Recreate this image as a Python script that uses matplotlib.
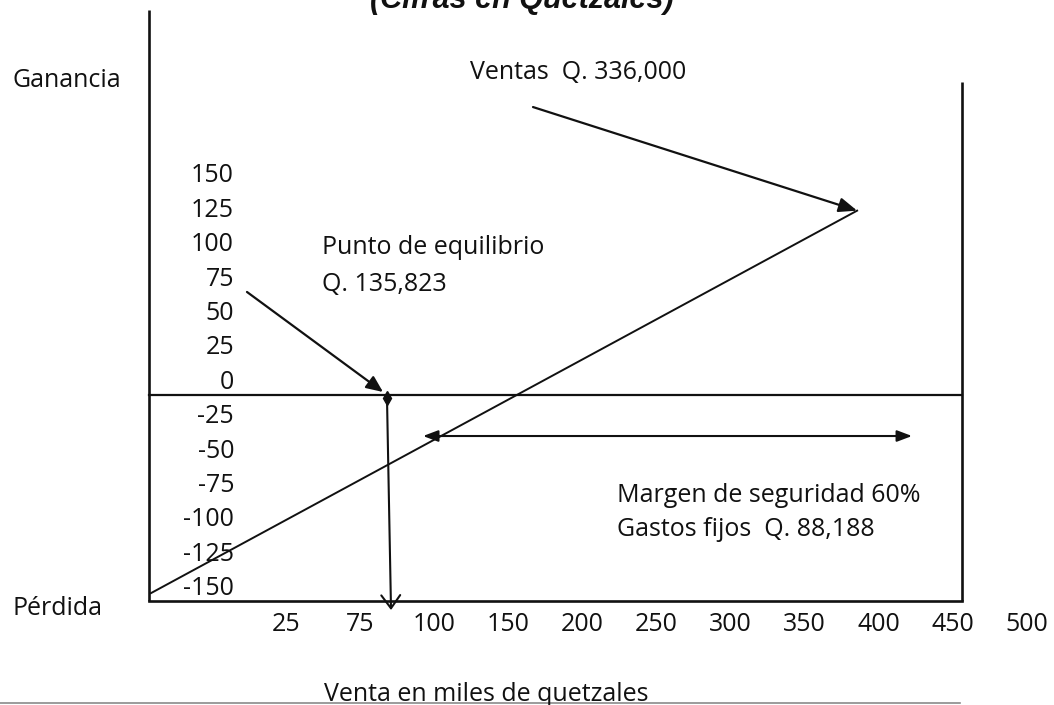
"""
Punto de equilibrio: ganancia / pérdida según venta (cifras en quetzales).
Redibujo del diagrama escaneado con matplotlib.
"""

import numpy as np
import matplotlib.pyplot as plt

y_values = [150, 125, 100, 75, 50, 25, 0, -25, -50, -75, -100, -125, -150]
x_labels = ["25", "75", "100", "150", "200", "250", "300", "350", "400", "450", "500"]
x_slots = np.arange(len(x_labels))          # las etiquetas del eje x van a intervalos iguales

# recta de resultado: x en posiciones del eje, y en miles de Q
profit_x = [-1.82, 7.71]
profit_y = [-144, 134]

ventas_text = "Ventas  Q. 336,000"
equilibrio_text = ["Punto de equilibrio", "Q. 135,823"]
margen_text = ["Margen de seguridad 60%", "Gastos fijos  Q. 88,188"]

# ── Disposición (unidades de los ejes) ──────────────────────────────────────
X_LEFT, X_RIGHT = -1.846, 9.126
Y_TOP_LEFT, Y_TOP_RIGHT, Y_BOTTOM = 280, 227.5, -150
BE_X = (1.366, 1.420)                       # flecha vertical del punto de equilibrio
FONT = "Open Sans"
FS = 18
INK = "#111111"

fig = plt.figure(figsize=(10.54, 7.05), dpi=100, facecolor="white")
ax = fig.add_axes([0, 0, 1, 1])
ax.set_xlim(-3.857, 10.367)
ax.set_ylim(-225.3, 287.1)
ax.axis("off")

# Marco
ax.plot([X_LEFT, X_LEFT], [Y_BOTTOM, Y_TOP_LEFT], color=INK, lw=1.9, solid_capstyle="butt")
ax.plot([X_RIGHT, X_RIGHT], [Y_BOTTOM, Y_TOP_RIGHT], color=INK, lw=1.9, solid_capstyle="butt")
ax.plot([X_LEFT, X_RIGHT], [0, 0], color=INK, lw=1.6)
ax.plot([X_LEFT, X_RIGHT], [Y_BOTTOM, Y_BOTTOM], color=INK, lw=1.9)

# Recta de ganancia / pérdida
ax.plot(profit_x, profit_y, color=INK, lw=1.4)

# Etiquetas del eje y (un poco por encima de su nivel)
for v in y_values:
    ax.annotate(str(v), (-0.699, v), xytext=(0, 9.2), textcoords="offset points",
                ha="right", va="center", fontsize=FS, family=FONT, color=INK)

# Etiquetas del eje x
for s, lab in zip(x_slots, x_labels):
    ax.annotate(lab, (s, Y_BOTTOM), xytext=(0, -16.5), textcoords="offset points",
                ha="center", va="center", fontsize=FS, family=FONT, color=INK)

# Título (recortado en el borde superior)
ax.text(3.188, 281, "(Cifras en Quetzales)", ha="center", va="baseline",
        fontsize=22, fontweight="bold", fontstyle="italic",
        family="Liberation Sans", color=INK, clip_on=False)

ax.text(-3.695, 228.5, "Ganancia", ha="left", va="center", fontsize=FS, family=FONT, color=INK)
ax.text(-3.695, -155.5, "Pérdida", ha="left", va="center", fontsize=FS, family=FONT, color=INK)
ax.text(2.702, -218, "Venta en miles de quetzales", ha="center", va="center",
        fontsize=FS, family=FONT, color=INK)

# Ventas
ax.text(2.486, 234.5, ventas_text, ha="left", va="center", fontsize=FS, family=FONT, color=INK)
ax.annotate("", xy=(profit_x[1], profit_y[1]), xytext=(3.336, 209.3),
            arrowprops=dict(arrowstyle="-|>,head_length=0.55,head_width=0.22",
                            mutation_scale=20, lw=1.6, color=INK,
                            shrinkA=0, shrinkB=0))

# Punto de equilibrio
ax.text(0.489, 107.5, equilibrio_text[0], ha="left", va="center", fontsize=FS, family=FONT, color=INK)
ax.text(0.489, 80.6, equilibrio_text[1], ha="left", va="center", fontsize=FS, family=FONT, color=INK)
ax.annotate("", xy=(1.312, 2.2), xytext=(-0.524, 74.9),
            arrowprops=dict(arrowstyle="-|>,head_length=0.5,head_width=0.22",
                            mutation_scale=20, lw=1.6, color=INK,
                            shrinkA=0, shrinkB=0))
ax.plot(BE_X[0], -2.2, marker="d", markersize=7, color=INK)
ax.annotate("", xy=(BE_X[1], -156.3), xytext=(BE_X[0], -3.6),
            arrowprops=dict(arrowstyle="->,head_length=0.47,head_width=0.34",
                            mutation_scale=20, lw=1.5, color=INK,
                            shrinkA=0, shrinkB=0))

# Margen de seguridad
ax.annotate("", xy=(8.451, -29.8), xytext=(1.852, -29.8),
            arrowprops=dict(arrowstyle="<|-|>,head_length=0.45,head_width=0.17",
                            mutation_scale=20, lw=1.5, color=INK,
                            shrinkA=0, shrinkB=0))
ax.text(4.470, -72.7, margen_text[0], ha="left", va="center", fontsize=FS, family=FONT, color=INK)
ax.text(4.470, -97.4, margen_text[1], ha="left", va="center", fontsize=FS, family=FONT, color=INK)

# Línea del borde del escaneo
ax.plot([-3.857, 9.1], [-223.8, -223.8], color="#8a8a8a", lw=1.2)

plt.savefig("out.png", dpi=100, facecolor="white")
plt.close()
